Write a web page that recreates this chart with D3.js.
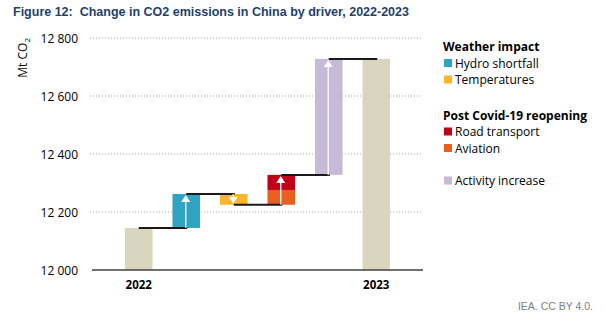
<!DOCTYPE html>
<html>
<head>
<meta charset="utf-8">
<script src="https://cdn.jsdelivr.net/npm/d3@7"></script>
<style>
  body { margin: 0; background: #fff; }
  svg text { font-family: "Open Sans", Carlito, Calibri, sans-serif; }
</style>
</head>
<body>
<div id="chart"></div>
<script>
// waterfall steps, Mt CO2
var steps = ["2022", "Hydro shortfall", "Temperatures", "Post Covid-19 reopening", "Activity increase", "2023"];
var startValue = 12145;
var hydroChange = 117;
var temperatureChange = -37;
var aviationChange = 51;
var roadChange = 52;
var activityChange = 400;
var endValue = 12728;

var yTicks = [12000, 12200, 12400, 12600, 12800];
var xLabels = ["2022", "2023"];

var legendGroups = [
    {title: "Weather impact", items: [["Hydro shortfall", "#2fa4c0"], ["Temperatures", "#fbb52b"]]},
    {title: "Post Covid-19 reopening", items: [["Road transport", "#c3001a"], ["Aviation", "#e95f20"]]},
    {title: "", items: [["Activity increase", "#c6bad6"]]}
];

var colors = {total: "#d9d5bf", hydro: "#2fa4c0", temp: "#fbb52b", road: "#c3001a", aviation: "#e95f20", activity: "#c6bad6"};

var width = 605, height = 321;

var svg = d3.select("#chart")
    .append("svg")
    .attr("width", width)
    .attr("height", height);

var x = d3.scaleBand()
    .domain(steps)
    .range([92, 423])
    .paddingInner(0.42)
    .paddingOuter(0.694);

var y = d3.scaleLinear()
    .domain([12000, 12800])
    .range([270, 38]);

// title (keep the double space after the colon)
svg.append("text")
    .attr("x", 13)
    .attr("y", 16)
    .attr("xml:space", "preserve")
    .style("white-space", "pre")
    .style("font-family", "'Liberation Sans', Arial, sans-serif")
    .style("font-size", "12.5px")
    .style("font-weight", "bold")
    .attr("fill", "#1f3f6e")
    .text("Figure 12:  Change in CO2 emissions in China by driver, 2022-2023");

// gridlines
svg.append("g")
    .selectAll("line")
    .data(yTicks.filter(d => d > 12000))
    .enter()
    .append("line")
    .attr("x1", 90)
    .attr("x2", 422)
    .attr("y1", d => y(d))
    .attr("y2", d => y(d))
    .attr("stroke", "#a6a6a6")
    .attr("stroke-width", 1)
    .attr("stroke-dasharray", "1,2");

// y tick labels
svg.append("g")
    .selectAll("text")
    .data(yTicks)
    .enter()
    .append("text")
    .attr("x", 78)
    .attr("y", d => y(d) + 4.5)
    .attr("text-anchor", "end")
    .style("font-size", "12px")
    .attr("fill", "#000")
    .text(d => d3.format(",")(d).replace(",", " "));

// axis title
var yTitle = svg.append("text")
    .attr("transform", "translate(27,38) rotate(-90)")
    .attr("text-anchor", "end")
    .style("font-size", "12px")
    .attr("fill", "#000");
yTitle.append("tspan").text("Mt CO");
yTitle.append("tspan").attr("dy", 3).style("font-size", "8px").text("2");

// build the stacked pieces
var hydroTop = startValue + hydroChange;
var tempTop = hydroTop + temperatureChange;
var aviationTop = tempTop + aviationChange;
var roadTop = aviationTop + roadChange;
var activityTop = roadTop + activityChange;

var pieces = [
    {step: steps[0], y0: 12000, y1: startValue, color: colors.total},
    {step: steps[1], y0: startValue, y1: hydroTop, color: colors.hydro},
    {step: steps[2], y0: tempTop, y1: hydroTop, color: colors.temp},
    {step: steps[3], y0: tempTop, y1: aviationTop, color: colors.aviation},
    {step: steps[3], y0: aviationTop, y1: roadTop, color: colors.road},
    {step: steps[4], y0: roadTop, y1: activityTop, color: colors.activity},
    {step: steps[5], y0: 12000, y1: endValue, color: colors.total}
];

svg.append("g")
    .selectAll("rect")
    .data(pieces)
    .enter()
    .append("rect")
    .attr("x", d => x(d.step))
    .attr("width", x.bandwidth())
    .attr("y", d => y(d.y1))
    .attr("height", d => y(d.y0) - y(d.y1))
    .attr("fill", d => d.color);

// connectors between bars
var levels = [startValue, hydroTop, tempTop, roadTop, activityTop];
var mid = d => x(d) + x.bandwidth() / 2;

svg.append("g")
    .selectAll("line")
    .data(levels)
    .enter()
    .append("line")
    .attr("x1", (d, i) => mid(steps[i]))
    .attr("x2", (d, i) => mid(steps[i + 1]) + 1)
    .attr("y1", d => y(d))
    .attr("y2", d => y(d))
    .attr("stroke", "#1a1a1a")
    .attr("stroke-width", 2);

// white arrows inside the change bars
var arrows = [
    {step: steps[1], from: startValue, to: hydroTop},
    {step: steps[2], from: hydroTop, to: tempTop},
    {step: steps[3], from: tempTop, to: roadTop},
    {step: steps[4], from: roadTop, to: activityTop}
];

var arrowG = svg.append("g");
arrows.forEach(function(a) {
    var cx = mid(a.step) - 0.5;
    var up = a.to > a.from;
    var tip = y(a.to) + (up ? 1 : -1);
    var head = 7;
    var base = up ? tip + head : tip - head;
    arrowG.append("line")
        .attr("x1", cx).attr("x2", cx)
        .attr("y1", y(a.from)).attr("y2", base)
        .attr("stroke", "#fff")
        .attr("stroke-opacity", 0.85)
        .attr("stroke-width", 1.5);
    arrowG.append("path")
        .attr("d", `M${cx},${tip}L${cx - 4.5},${base}L${cx + 4.5},${base}Z`)
        .attr("fill", "#fff");
});

// x axis line
svg.append("line")
    .attr("x1", 92)
    .attr("x2", 423)
    .attr("y1", y(12000))
    .attr("y2", y(12000))
    .attr("stroke", "#404040")
    .attr("stroke-width", 1.5);

// x labels
svg.append("g")
    .selectAll("text")
    .data(xLabels)
    .enter()
    .append("text")
    .attr("x", d => mid(d))
    .attr("y", 289)
    .attr("text-anchor", "middle")
    .style("font-size", "11.5px")
    .style("font-weight", "bold")
    .attr("fill", "#000")
    .text(d => d);

// legend
var legend = svg.append("g").attr("transform", "translate(443,0)");
var ly = 51;
legendGroups.forEach(function(g, gi) {
    if (gi > 0) ly += g.title ? 19 : 16;
    if (g.title) {
        legend.append("text")
            .attr("x", 0)
            .attr("y", ly)
            .style("font-size", "12px")
            .style("font-weight", "bold")
            .attr("fill", "#000")
            .text(g.title);
        ly += 16.5;
    }
    g.items.forEach(function(it) {
        legend.append("rect")
            .attr("x", 1)
            .attr("y", ly - 8.5)
            .attr("width", 8)
            .attr("height", 8)
            .attr("fill", it[1]);
        legend.append("text")
            .attr("x", 12)
            .attr("y", ly)
            .style("font-size", "12px")
            .attr("fill", "#000")
            .text(it[0]);
        ly += 16.5;
    });
});

// source
svg.append("text")
    .attr("x", 593)
    .attr("y", 310)
    .attr("text-anchor", "end")
    .style("font-family", "'Liberation Sans', Arial, sans-serif")
    .style("font-size", "10.5px")
    .attr("fill", "#808080")
    .text("IEA. CC BY 4.0.");
</script>
</body>
</html>
